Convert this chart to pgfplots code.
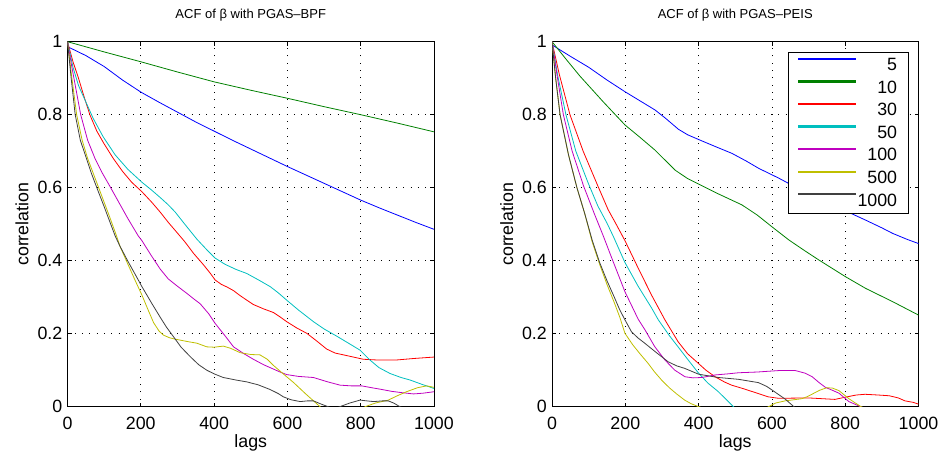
\documentclass[border=0pt]{standalone}
\usepackage{fontspec}
\setmainfont{Liberation Sans}
\usepackage{pgfplots}
\pgfplotsset{compat=1.18}
\definecolor{mblue}{rgb}{0,0,1}
\definecolor{mgreen}{rgb}{0,0.5,0}
\definecolor{mred}{rgb}{1,0,0}
\definecolor{mcyan}{rgb}{0,0.75,0.75}
\definecolor{mmag}{rgb}{0.75,0,0.75}
\definecolor{myel}{rgb}{0.75,0.75,0}
\definecolor{mgray}{rgb}{0.25,0.25,0.25}
\pgfplotsset{
  acfax/.style={
    anchor=south west, scale only axis, width=366.5pt, height=365pt,
    xmin=0, xmax=1000, ymin=0, ymax=1,
    xtick={0,200,400,600,800,1000}, ytick={0,0.2,0.4,0.6,0.8,1},
    grid=major,
    grid style={black, line width=0.8pt, dash pattern=on 0.8pt off 6.5pt},
    major tick length=4pt, tick align=inside,
    tick style={black, line width=0.8pt},
    axis line style={black, line width=0.8pt},
    /pgf/number format/assume math mode=true,
    /pgf/number format/1000 sep={},
    tick label style={font=\fontsize{17.8}{20}\selectfont},
    xticklabel style={inner sep=0pt, anchor=north, yshift=-10pt},
    yticklabel style={inner sep=0pt, anchor=east, xshift=-5pt},
    label style={font=\fontsize{17.8}{20}\selectfont},
    xlabel style={at={(axis description cs:0.5,0)}, anchor=base, yshift=-41pt},
    ylabel style={at={(axis description cs:0,0.5)}, anchor=base, yshift=39pt},
    title style={at={(axis description cs:0.5,1)}, anchor=base, yshift=17.5pt, font=\fontsize{13}{15}\selectfont},
    xlabel={lags}, ylabel={correlation},
    every axis plot/.append style={line width=0.8pt},
  }
}
\begin{document}
\begin{tikzpicture}
\useasboundingbox (-67.5pt,-55.3pt) rectangle (876.5pt,406.7pt);
\begin{axis}[acfax, at={(0pt,0pt)}, title={ACF of β with PGAS–BPF}]
\addplot[mblue] coordinates {(0,1)(3,0.985)(50,0.962)(100,0.932)(150,0.895)(200,0.862)(250,0.834)(300,0.807)(350,0.780)(400,0.755)(450,0.730)(500,0.706)(550,0.682)(600,0.658)(650,0.635)(700,0.612)(750,0.589)(800,0.566)(850,0.545)(900,0.525)(950,0.505)(1000,0.486)};
\addplot[mgreen] coordinates {(0,1)(100,0.972)(200,0.945)(300,0.917)(400,0.89)(500,0.867)(600,0.845)(700,0.822)(800,0.80)(900,0.777)(1000,0.753)};
\addplot[mred] coordinates {(0,1)(15,0.945)(30,0.9)(45,0.85)(61,0.8)(80,0.755)(100,0.72)(125,0.68)(150,0.645)(175,0.615)(203,0.589)(230,0.56)(253,0.533)(275,0.505)(298,0.478)(320,0.452)(344,0.42)(370,0.39)(390,0.365)(403,0.347)(420,0.335)(435,0.328)(453,0.318)(470,0.305)(489,0.292)(507,0.28)(535,0.268)(562,0.258)(580,0.246)(598,0.233)(625,0.216)(653,0.201)(680,0.18)(707,0.158)(730,0.147)(753,0.142)(780,0.136)(807,0.13)(844,0.128)(898,0.128)(944,0.132)(1000,0.136)};
\addplot[mcyan] coordinates {(0,1)(15,0.93)(30,0.88)(50,0.835)(70,0.79)(97,0.74)(130,0.69)(165,0.65)(203,0.615)(230,0.593)(253,0.573)(275,0.553)(294,0.533)(320,0.5)(353,0.459)(380,0.43)(403,0.407)(430,0.39)(460,0.376)(489,0.365)(520,0.348)(553,0.329)(575,0.312)(598,0.292)(630,0.265)(671,0.233)(700,0.213)(735,0.193)(765,0.175)(798,0.155)(825,0.128)(850,0.107)(880,0.091)(910,0.08)(935,0.073)(965,0.062)(1000,0.05)};
\addplot[mmag] coordinates {(0,1)(12,0.93)(24,0.865)(36,0.8)(55,0.73)(75,0.68)(95,0.64)(115,0.605)(140,0.56)(165,0.515)(193,0.468)(203,0.455)(228,0.415)(253,0.377)(275,0.35)(300,0.33)(325,0.311)(345,0.295)(362,0.282)(385,0.255)(403,0.228)(430,0.194)(453,0.164)(480,0.146)(507,0.13)(535,0.115)(562,0.103)(580,0.095)(598,0.088)(630,0.083)(671,0.08)(710,0.068)(744,0.059)(775,0.057)(803,0.057)(830,0.052)(853,0.048)(885,0.042)(916,0.038)(944,0.035)(970,0.037)(1000,0.041)};
\addplot[myel] coordinates {(0,1)(12,0.9)(25,0.8)(40,0.73)(55,0.68)(70,0.64)(85,0.6)(100,0.56)(115,0.52)(133,0.47)(143,0.44)(165,0.39)(185,0.345)(203,0.306)(220,0.265)(235,0.23)(250,0.207)(262,0.196)(278,0.189)(294,0.185)(330,0.178)(353,0.174)(380,0.164)(400,0.163)(425,0.166)(445,0.16)(471,0.148)(500,0.143)(525,0.142)(545,0.13)(562,0.113)(598,0.082)(616,0.067)(650,0.035)(689,0)(720,-0.025)(750,-0.035)(790,-0.02)(812,0)(840,0.01)(875,0.018)(900,0.03)(925,0.041)(955,0.052)(980,0.057)(1000,0.053)};
\addplot[mgray] coordinates {(0,1)(10,0.9)(21,0.8)(35,0.73)(50,0.685)(65,0.64)(80,0.6)(100,0.548)(130,0.468)(143,0.44)(165,0.398)(185,0.362)(203,0.329)(230,0.283)(253,0.245)(270,0.218)(289,0.192)(310,0.163)(335,0.137)(358,0.115)(380,0.1)(400,0.09)(425,0.08)(460,0.073)(489,0.068)(520,0.06)(553,0.047)(575,0.036)(589,0.027)(610,0.019)(635,0.014)(655,0.016)(671,0.016)(690,0.008)(711,0)(727,-0.006)(743,0)(770,0.01)(798,0.018)(835,0.014)(860,0.016)(875,0.016)(890,0.01)(907,0)(930,-0.01)(1000,-0.02)};
\end{axis}
\begin{axis}[acfax, at={(484.5pt,0pt)}, title={ACF of β with PGAS–PEIS},
  legend style={at={(1,1)}, anchor=north east, xshift=-10pt, yshift=-10.5pt,
    fill=white, font=\fontsize{17.8}{20}\selectfont,
    inner xsep=9pt, inner ysep=4pt, row sep=4.6pt,
    /tikz/column 2/.style={column sep=9pt}},
  every axis legend/.append style={line width=0.8pt},
  legend cell align=right,
  legend image code/.code={\fill[#1] (0pt,5.7pt) rectangle (57pt,7.1pt);}]
\addplot[color=mblue] coordinates {(0,1)(2,0.99)(50,0.96)(100,0.93)(150,0.895)(199,0.863)(240,0.838)(281,0.813)(310,0.79)(345,0.76)(370,0.745)(400,0.732)(445,0.713)(491,0.694)(530,0.673)(564,0.653)(619,0.626)(660,0.604)(700,0.584)(750,0.56)(800,0.537)(856,0.511)(900,0.49)(929,0.475)(970,0.458)(1000,0.447)};
\addlegendentry{5}
\addplot[color=mgreen] coordinates {(0,1)(40,0.95)(76,0.906)(140,0.835)(199,0.772)(240,0.738)(281,0.703)(336,0.648)(370,0.625)(400,0.61)(454,0.583)(518,0.553)(560,0.525)(600,0.493)(646,0.457)(690,0.427)(728,0.402)(801,0.356)(856,0.324)(929,0.288)(1000,0.251)};
\addlegendentry{10}
\addplot[color=mred] coordinates {(0,1)(20,0.91)(49,0.8)(85,0.7)(125,0.605)(153,0.54)(175,0.5)(199,0.455)(235,0.38)(272,0.305)(308,0.238)(344,0.178)(370,0.145)(399,0.119)(420,0.1)(445,0.082)(470,0.068)(490,0.059)(520,0.05)(563,0.036)(590,0.027)(618,0.023)(700,0.024)(772,0.02)(800,0.026)(830,0.032)(854,0.034)(890,0.032)(920,0.03)(945,0.024)(963,0.016)(985,0.012)(1000,0.007)};
\addlegendentry{30}
\addplot[color=mcyan] coordinates {(0,1)(15,0.91)(38,0.8)(65,0.7)(99,0.612)(125,0.55)(150,0.503)(168,0.465)(199,0.395)(235,0.33)(272,0.27)(290,0.238)(320,0.195)(344,0.164)(370,0.13)(399,0.093)(425,0.065)(454,0.041)(475,0.02)(495,0)(520,-0.02)};
\addlegendentry{50}
\addplot[color=mmag] coordinates {(0,1)(15,0.9)(31,0.8)(55,0.7)(86,0.605)(115,0.53)(141,0.465)(162,0.41)(199,0.315)(235,0.24)(254,0.21)(280,0.165)(308,0.128)(335,0.1)(363,0.082)(385,0.079)(409,0.08)(445,0.087)(480,0.09)(509,0.093)(560,0.095)(619,0.099)(664,0.099)(690,0.092)(710,0.082)(730,0.065)(746,0.053)(765,0.045)(783,0.037)(810,0.014)(842,0)(860,-0.01)};
\addlegendentry{100}
\addplot[color=myel] coordinates {(0,1)(10,0.9)(22,0.8)(45,0.69)(68,0.6)(89,0.53)(110,0.45)(130,0.39)(150,0.335)(170,0.285)(185,0.245)(199,0.201)(220,0.17)(240,0.145)(262,0.119)(280,0.095)(299,0.073)(320,0.052)(340,0.035)(362,0.018)(380,0.008)(400,0)(430,-0.01)(500,-0.03)(560,-0.015)(591,0)(610,0.01)(636,0.016)(660,0.019)(682,0.022)(695,0.027)(709,0.034)(730,0.045)(750,0.052)(765,0.051)(783,0.044)(810,0.022)(843,0)(870,-0.01)};
\addlegendentry{500}
\addplot[color=mgray] coordinates {(0,1)(10,0.9)(22,0.8)(45,0.69)(68,0.6)(89,0.53)(110,0.455)(130,0.395)(150,0.345)(170,0.3)(185,0.265)(199,0.238)(217,0.205)(235,0.188)(253,0.174)(285,0.148)(317,0.123)(340,0.112)(362,0.105)(400,0.089)(454,0.08)(509,0.075)(563,0.066)(585,0.056)(600,0.046)(620,0.032)(636,0.021)(660,0)(680,-0.01)};
\addlegendentry{1000}
\end{axis}
\end{tikzpicture}
\end{document}
